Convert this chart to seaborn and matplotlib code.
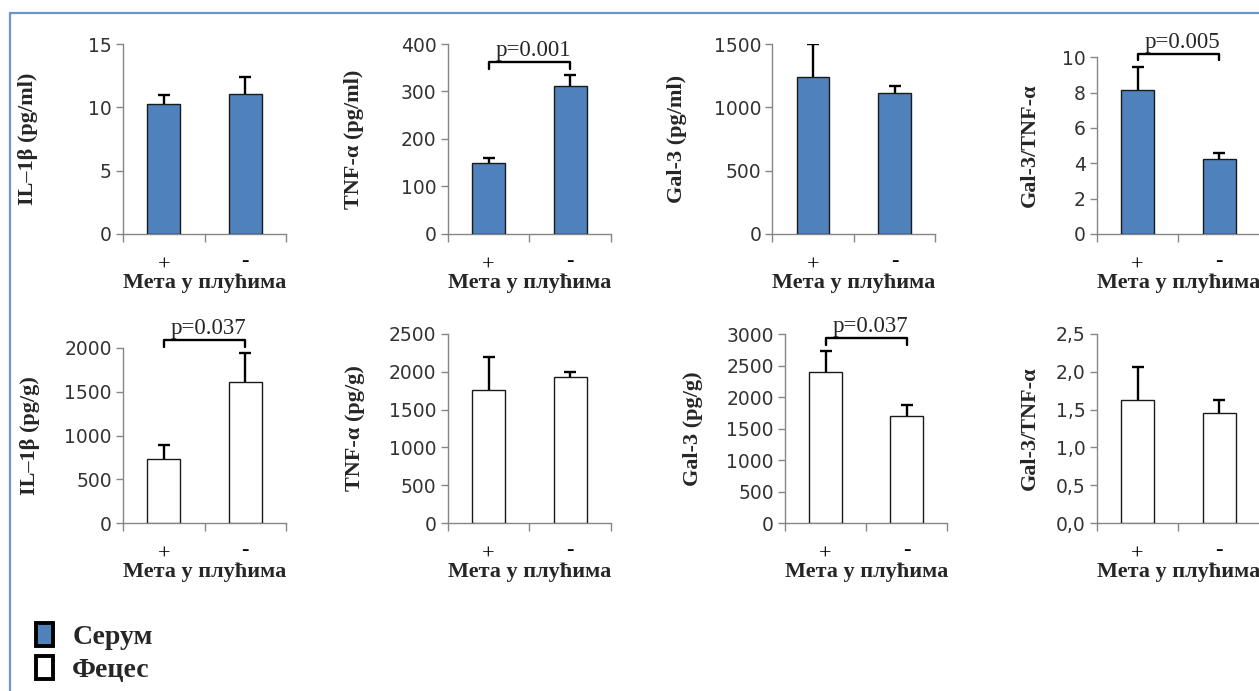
import matplotlib
matplotlib.use("Agg")
import matplotlib.pyplot as plt
import matplotlib.transforms as mtransforms
import seaborn as sns
import numpy as np
from matplotlib.patches import Patch
from matplotlib.lines import Line2D
from matplotlib.ticker import FuncFormatter, FixedLocator

# ---------------- data ----------------
groups = ["+", "-"]

serum_il1b = [10.3, 11.05]
serum_il1b_err = [0.7, 1.35]
serum_tnf = [149, 312]
serum_tnf_err = [11, 22]
serum_gal3 = [1240, 1113]
serum_gal3_err = [262, 55]
serum_ratio = [8.15, 4.24]
serum_ratio_err = [1.32, 0.36]

feces_il1b = [736, 1606]
feces_il1b_err = [152, 337]
feces_tnf = [1761, 1925]
feces_tnf_err = [436, 70]
feces_gal3 = [2403, 1705]
feces_gal3_err = [323, 165]
feces_ratio = [1.62, 1.45]
feces_ratio_err = [0.44, 0.18]

ylabels_top = ["IL–1β (pg/ml)", "TNF-α (pg/ml)", "Gal-3 (pg/ml)", "Gal-3/TNF-α"]
ylabels_bot = ["IL–1β (pg/g)", "TNF-α (pg/g)", "Gal-3 (pg/g)", "Gal-3/TNF-α"]
ymax_top = [15, 400, 1500, 10]
ystep_top = [5, 100, 500, 2]
ymax_bot = [2000, 2500, 3000, 2.5]
ystep_bot = [500, 500, 500, 0.5]
pvals_top = [None, "p=0.001", None, "p=0.005"]
pvals_bot = ["p=0.037", None, "p=0.037", None]
xlabel = "Мета у плућима"
legend_labels = ["Серум", "Фецес"]

SERUM = "#4F81BD"
FECES = "#FFFFFF"
AXC = "#868686"
SERIF = "Liberation Serif"

sns.set_theme(style="white")
plt.rcParams["font.family"] = ["DejaVu Sans"]

W, H = 1259, 691
fig = plt.figure(figsize=(W / 100, H / 100), dpi=100)
fig.patch.set_facecolor("white")

# blue frame (top and left edges)
fig.add_artist(Line2D([10 / W, 1], [1 - 13 / H, 1 - 13 / H], color="#6E96CB", lw=1.6))
fig.add_artist(Line2D([10 / W, 10 / W], [0, 1 - 13 / H], color="#6E96CB", lw=1.6))

axes_all = []


def px_axes(left, right, top, bottom):
    return fig.add_axes([left / W, 1 - bottom / H, (right - left) / W, (bottom - top) / H])


def panel(ax, vals, errs, color, ymax, ystep, ylabel, ylab_off, pval, comma=False):
    sns.barplot(x=groups, y=vals, ax=ax, color=color, saturation=1, width=0.4,
                edgecolor="#1A1A1A", linewidth=1.0, errorbar=None, order=groups)
    for p in ax.patches:
        p.set_zorder(3)
    ax.errorbar(x=[0, 1], y=vals, yerr=errs, fmt="none", ecolor="black",
                elinewidth=1.7, capsize=4, capthick=1.7, zorder=2)
    ax.set_xlim(-0.5, 1.5)
    ax.set_ylim(0, ymax)
    ax.set_yticks(np.arange(0, ymax + ystep / 2, ystep))
    if comma:
        ax.yaxis.set_major_formatter(FuncFormatter(lambda v, _: f"{v:.1f}".replace(".", ",")))
    else:
        ax.yaxis.set_major_formatter(FuncFormatter(lambda v, _: f"{v:g}"))
    sns.despine(ax=ax)
    for s in ("left", "bottom"):
        ax.spines[s].set_color(AXC)
        ax.spines[s].set_linewidth(1.0)
    ax.tick_params(axis="y", which="major", direction="out", length=5, width=1,
                   color=AXC, labelsize=13.5, labelcolor="#333333", pad=3, left=True)
    ax.set_xticks([0, 1])
    ax.set_xticklabels(groups, fontfamily=SERIF, fontsize=16)
    ax.xaxis.set_minor_locator(FixedLocator([-0.5, 0.5, 1.5]))
    ax.tick_params(axis="x", which="major", length=0, pad=26, labelcolor="black")
    ax.tick_params(axis="x", which="minor", direction="out", length=6, width=1,
                   color=AXC, bottom=True)
    bb = ax.get_position()
    wpx = bb.width * W
    hpx = bb.height * H
    ax.set_ylabel(ylabel, fontfamily=SERIF, fontweight="bold", fontsize=16,
                  va="center", ha="center")
    ax.yaxis.set_label_coords(-ylab_off / wpx, 0.5)
    ax.set_xlabel(xlabel, fontfamily=SERIF, fontweight="bold", fontsize=16,
                  va="center", ha="center")
    ax.xaxis.set_label_coords(0.5, -49 / hpx)
    if pval:
        top = max(v + e for v, e in zip(vals, errs))
        yb = top + 0.07 * ymax
        yd = yb - 0.035 * ymax
        ax.plot([0, 0, 1, 1], [yd, yb, yb, yd], color="black", lw=1.7,
                clip_on=False, zorder=4)
        ax.annotate(pval, xy=(0.5, yb), xytext=(3, 1), textcoords="offset points",
                    ha="center", va="bottom", fontfamily=SERIF, fontsize=16.5,
                    annotation_clip=False)
    axes_all.append(ax)


top_pos = [(123, 286, 44, 234), (447.7, 611, 44, 234), (772.3, 935.3, 44, 234),
           (1096.7, 1260, 57.3, 234)]
bot_pos = [(123, 286, 347.7, 523.3), (447.7, 611, 333.7, 523.3),
           (785, 947.3, 334, 523.3), (1096.7, 1260, 333.7, 523.3)]
lab_off_top = [95, 94, 95, 67]
lab_off_bot = [93, 93, 92, 67]

top_vals = [(serum_il1b, serum_il1b_err), (serum_tnf, serum_tnf_err),
            (serum_gal3, serum_gal3_err), (serum_ratio, serum_ratio_err)]
bot_vals = [(feces_il1b, feces_il1b_err), (feces_tnf, feces_tnf_err),
            (feces_gal3, feces_gal3_err), (feces_ratio, feces_ratio_err)]

for i in range(4):
    ax = px_axes(*top_pos[i])
    panel(ax, top_vals[i][0], top_vals[i][1], SERUM, ymax_top[i], ystep_top[i],
          ylabels_top[i], lab_off_top[i], pvals_top[i])
for i in range(4):
    ax = px_axes(*bot_pos[i])
    panel(ax, bot_vals[i][0], bot_vals[i][1], FECES, ymax_bot[i], ystep_bot[i],
          ylabels_bot[i], lab_off_bot[i], pvals_bot[i], comma=(i == 3))

handles = [Patch(facecolor=SERUM, edgecolor="black", linewidth=2.8),
           Patch(facecolor=FECES, edgecolor="black", linewidth=2.8)]
fig.legend(handles, legend_labels, loc="upper left",
           bbox_to_anchor=(25 / W, 1 - 612 / H), frameon=False,
           prop={"family": SERIF, "weight": "bold", "size": 20},
           handlelength=0.6, handleheight=0.9, handletextpad=0.7,
           labelspacing=0.2, borderaxespad=0)

# baseline-align the "+"/"-" tick labels and lift the hyphen to the "+" centre
fig.canvas.draw()
raise_hyphen = mtransforms.ScaledTranslation(0, 4 / 100, fig.dpi_scale_trans)
for ax in axes_all:
    for tick in ax.xaxis.get_major_ticks():
        tick.label1.set_va("baseline")
        if tick.label1.get_text() == "-":
            tick.label1.set_transform(tick.label1.get_transform() + raise_hyphen)

fig.savefig("out.png", dpi=100, facecolor="white")
